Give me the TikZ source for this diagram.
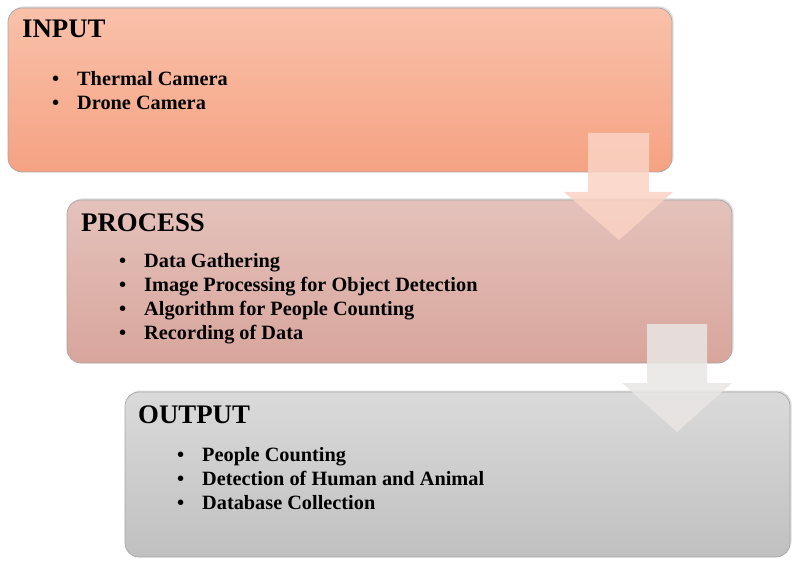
\documentclass[tikz,border=0pt]{standalone}
\usepackage{fontspec}
\setmainfont{Liberation Serif}
\usetikzlibrary{shadows}
\definecolor{inTop}{HTML}{F9C1AA}
\definecolor{inBot}{HTML}{F5A282}
\definecolor{prTop}{HTML}{E4C2BB}
\definecolor{prBot}{HTML}{D8A59C}
\definecolor{ouTop}{HTML}{DADADA}
\definecolor{ouBot}{HTML}{C0C0C0}
\definecolor{arrA}{HTML}{FAD3C4}
\definecolor{arrB}{HTML}{E9E6E4}
\tikzset{
  stagebox/.style={draw=black!35, line width=0.7pt, rounded corners=14pt, drop shadow={shadow xshift=1.5pt, shadow yshift=1.5pt, opacity=0.25}},
  title/.style={anchor=base west, inner sep=0pt, font=\fontsize{26.8}{28}\selectfont\bfseries},
  item/.style={anchor=base west, inner sep=0pt, font=\fontsize{20.3}{22}\selectfont\bfseries},
  blt/.style={anchor=base west, inner sep=0pt, font=\fontsize{20.3}{22}\selectfont\bfseries},
  blockarrow/.style={opacity=0.85},
}
\begin{document}
\begin{tikzpicture}[x=1pt,y=-1pt]
\useasboundingbox (0,0) rectangle (800,572);
% boxes
\path[stagebox, top color=inTop, bottom color=inBot] (8,8) rectangle (672,172);
\path[stagebox, top color=prTop, bottom color=prBot] (67,200) rectangle (732,363);
\path[stagebox, top color=ouTop, bottom color=ouBot] (125,392) rectangle (790,557);
% arrows
\fill[arrA, blockarrow] (588,133) -- (649,133) -- (649,192) -- (673,192) -- (619,240) -- (564,192) -- (588,192) -- cycle;
\fill[arrB, blockarrow] (647,324) -- (707,324) -- (707,383) -- (732,383) -- (677,432) -- (622,383) -- (647,383) -- cycle;
% INPUT
\node[title] (tin) at (22,38) {INPUT};
\node[blt] (b1) at (52,85.5) {•};
\node[item] (i1) at (77,85.5) {Thermal Camera};
\node[blt] (b2) at (52,109.5) {•};
\node[item] (i2) at (77,109.5) {Drone Camera};
% PROCESS
\node[title] (tpr) at (81,231) {PROCESS};
\node[blt] (b3) at (119,267.5) {•};
\node[item] (p1) at (144,267.5) {Data Gathering};
\node[blt] (b4) at (119,291.5) {•};
\node[item] (p2) at (144,291.5) {Image Processing for Object Detection};
\node[blt] (b5) at (119,315.5) {•};
\node[item] (p3) at (144,315.5) {Algorithm for People Counting};
\node[blt] (b6) at (119,339.5) {•};
\node[item] (p4) at (144,339.5) {Recording of Data};
% OUTPUT
\node[title] (tou) at (138,423) {OUTPUT};
\node[blt] (b7) at (177,461.5) {•};
\node[item] (o1) at (202,461.5) {People Counting};
\node[blt] (b8) at (177,485.5) {•};
\node[item] (o2) at (202,485.5) {Detection of Human and Animal};
\node[blt] (b9) at (177,509.5) {•};
\node[item] (o3) at (202,509.5) {Database Collection};
\end{tikzpicture}
\end{document}
